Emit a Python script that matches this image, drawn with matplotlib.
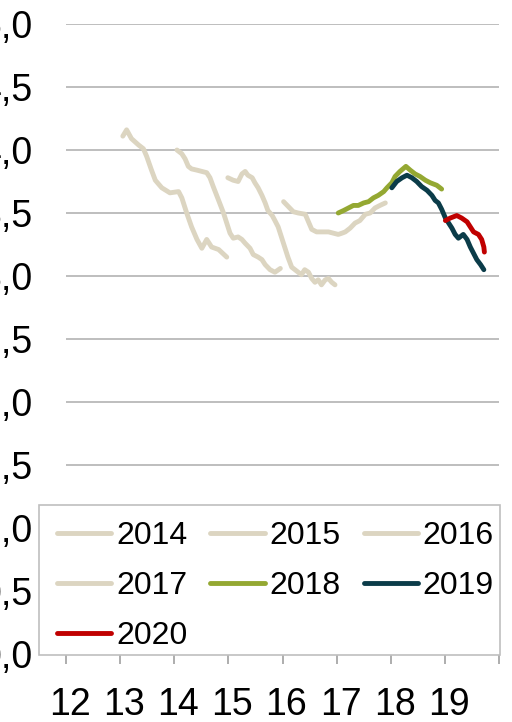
import matplotlib
matplotlib.use("Agg")
import matplotlib.pyplot as plt
import matplotlib.transforms as mtransforms
from matplotlib.patches import Rectangle

plt.rcParams['font.family'] = ['Liberation Sans', 'DejaVu Sans']

# forecast vintages, x = year (12 = 2012), y = value
x_2014 = [13.05, 13.12, 13.21, 13.34, 13.43, 13.49, 13.58, 13.65, 13.77, 13.92,
          14.08, 14.14, 14.23, 14.32, 14.42, 14.51, 14.60, 14.69, 14.82, 14.97]
y_2014 = [4.11, 4.16, 4.09, 4.04, 4.01, 3.95, 3.84, 3.76, 3.70, 3.66,
          3.67, 3.62, 3.50, 3.39, 3.29, 3.22, 3.29, 3.23, 3.21, 3.15]

x_2015 = [14.05, 14.14, 14.20, 14.26, 14.32, 14.42, 14.51, 14.60, 14.66, 14.72,
          14.82, 14.91, 14.97, 15.03, 15.09, 15.18, 15.25, 15.31, 15.40, 15.46,
          15.55, 15.62, 15.68, 15.77, 15.86, 15.96]
y_2015 = [4.00, 3.97, 3.93, 3.87, 3.85, 3.84, 3.83, 3.82, 3.78, 3.71,
          3.60, 3.50, 3.42, 3.34, 3.30, 3.31, 3.29, 3.26, 3.22, 3.17,
          3.15, 3.13, 3.09, 3.05, 3.03, 3.06]

x_2016 = [14.99, 15.09, 15.18, 15.25, 15.31, 15.36, 15.44, 15.49, 15.55, 15.62,
          15.68, 15.73, 15.81, 15.86, 15.92, 15.98, 16.04, 16.10, 16.17, 16.23,
          16.29, 16.35, 16.41, 16.48, 16.54, 16.60, 16.66, 16.72, 16.79, 16.85, 16.91, 16.97]
y_2016 = [3.78, 3.76, 3.75, 3.81, 3.83, 3.80, 3.78, 3.74, 3.70, 3.64,
          3.58, 3.52, 3.48, 3.44, 3.39, 3.31, 3.23, 3.15, 3.07, 3.05,
          3.03, 3.01, 3.05, 3.03, 2.98, 2.95, 2.97, 2.93, 2.97, 2.98, 2.95, 2.93]

x_2017 = [16.02, 16.11, 16.20, 16.29, 16.42, 16.48, 16.54, 16.63, 16.73, 16.85,
          16.94, 17.03, 17.10, 17.16, 17.25, 17.34, 17.43, 17.53, 17.62, 17.71,
          17.80, 17.90]
y_2017 = [3.59, 3.55, 3.51, 3.50, 3.49, 3.43, 3.37, 3.35, 3.35, 3.35,
          3.34, 3.33, 3.34, 3.35, 3.38, 3.42, 3.44, 3.49, 3.50, 3.54,
          3.56, 3.58]

x_2018 = [17.03, 17.13, 17.22, 17.31, 17.40, 17.50, 17.59, 17.68, 17.77, 17.87,
          17.93, 18.02, 18.08, 18.17, 18.28, 18.36, 18.45, 18.54, 18.64, 18.73,
          18.85, 18.94]
y_2018 = [3.50, 3.52, 3.54, 3.56, 3.56, 3.58, 3.59, 3.62, 3.64, 3.67,
          3.70, 3.74, 3.79, 3.83, 3.87, 3.84, 3.81, 3.79, 3.76, 3.74,
          3.72, 3.69]

x_2019 = [18.02, 18.11, 18.21, 18.30, 18.39, 18.48, 18.57, 18.67, 18.76, 18.82,
          18.88, 18.94, 19.01, 19.07, 19.13, 19.19, 19.25, 19.34, 19.41, 19.47,
          19.53, 19.59, 19.66, 19.72]
y_2019 = [3.70, 3.75, 3.78, 3.80, 3.78, 3.75, 3.71, 3.68, 3.64, 3.60,
          3.58, 3.53, 3.46, 3.42, 3.38, 3.33, 3.30, 3.33, 3.29, 3.23,
          3.18, 3.13, 3.09, 3.05]

x_2020 = [19.01, 19.10, 19.22, 19.31, 19.41, 19.47, 19.53, 19.62, 19.68, 19.72, 19.73]
y_2020 = [3.44, 3.46, 3.48, 3.46, 3.43, 3.39, 3.35, 3.33, 3.29, 3.23, 3.19]

series = [
    ("2014", x_2014, y_2014, "#DCD5C1"),
    ("2015", x_2015, y_2015, "#DCD5C1"),
    ("2016", x_2016, y_2016, "#DCD5C1"),
    ("2017", x_2017, y_2017, "#DCD5C1"),
    ("2018", x_2018, y_2018, "#94A832"),
    ("2019", x_2019, y_2019, "#0B3C49"),
    ("2020", x_2020, y_2020, "#C00000"),
]

x_ticks = [12, 13, 14, 15, 16, 17, 18, 19, 20]
x_labels = ["12", "13", "14", "15", "16", "17", "18", "19", ""]
y_ticks = [0.0, 0.5, 1.0, 1.5, 2.0, 2.5, 3.0, 3.5, 4.0, 4.5, 5.0]
y_labels = ["0,0", "0,5", "1,0", "1,5", "2,0", "2,5", "3,0", "3,5", "4,0", "4,5", "5,0"]

fig = plt.figure(figsize=(5.12, 7.22), dpi=100)
ax = fig.add_axes([66 / 512, 1 - 654 / 722, 433 / 512, 630 / 722])

handles = {}
for name, xs, ys, c in series:
    ln, = ax.plot(xs, ys, color=c, lw=3.5, solid_capstyle='round', solid_joinstyle='round',
                  label=name, zorder=3)
    handles[name] = ln

ax.set_xlim(12, 20)
ax.set_ylim(0, 5)
ax.set_xticks(x_ticks)
ax.set_xticklabels(x_labels, fontsize=27)
ax.set_yticks(y_ticks)
ax.set_yticklabels(y_labels, fontsize=27)
ax.grid(axis='y', color='#B3B3B3', lw=1.2)
ax.set_axisbelow(True)

for s in ['left', 'right', 'top']:
    ax.spines[s].set_visible(False)
ax.spines['bottom'].set_color('#BFBFBF')
ax.spines['bottom'].set_linewidth(1.2)
ax.tick_params(axis='x', direction='out', length=7, width=1.2, color='#A0A0A0', pad=17)
ax.tick_params(axis='y', length=0, pad=24)

# small shift of x labels to the right, as in the source
offset = mtransforms.ScaledTranslation(4 / 100, 0, fig.dpi_scale_trans)
for lab in ax.get_xticklabels():
    lab.set_transform(lab.get_transform() + offset)

# legend box drawn by hand, entries laid out row by row
frame = Rectangle((39 / 512, 67 / 722), 461 / 512, 150 / 722, transform=fig.transFigure,
                  facecolor='white', edgecolor='#BFBFBF', lw=1.2, zorder=1)
fig.patches.append(frame)

order = ["2014", "2017", "2020", "2015", "2018", "2016", "2019"]
leg = fig.legend([handles[k] for k in order], order,
                 loc='center left', bbox_to_anchor=(57 / 512, 61 / 722, 437 / 512, 150 / 722),
                 mode='expand', ncol=3, fontsize=23, frameon=False,
                 handlelength=1.7, handletextpad=0.15, borderpad=0, labelspacing=0.63,
                 borderaxespad=0)
leg.set_zorder(5)
for line in leg.get_lines():
    line.set_linewidth(3.5)

fig.savefig("out.png", dpi=100)
